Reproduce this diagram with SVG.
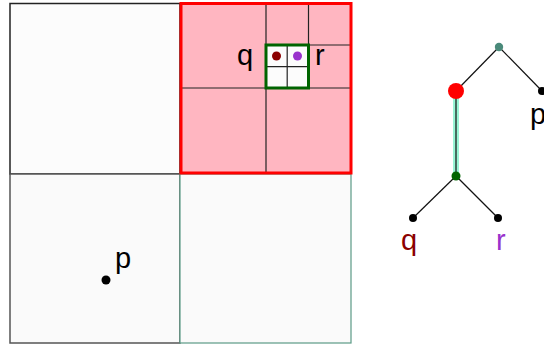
<svg xmlns="http://www.w3.org/2000/svg" width="544" height="345" viewBox="0 0 544 345">
<style>
.lbl{font-family:"Liberation Sans",Arial,sans-serif;font-size:29px;fill:#000}
.grid{stroke:#222;stroke-width:1.2;fill:none}
.edge{stroke:#111;stroke-width:1.2}
</style>
<rect width="544" height="345" fill="#fff"/>
<g id="quadtree">
<rect x="10" y="3.5" width="170" height="170.5" fill="#fcfcfc" stroke="#222" stroke-width="1.5"/>
<rect x="10" y="174" width="170" height="169" fill="#fafafa" stroke="#555" stroke-width="1.5"/>
<rect x="180" y="174" width="171" height="169" fill="#fafafa" stroke="#5a9a85" stroke-width="1.2"/>
<rect x="181" y="3.5" width="170" height="169.5" fill="#ffb6c1"/>
<line class="grid" x1="266" y1="3.5" x2="266" y2="173"/>
<line class="grid" x1="181" y1="88" x2="351" y2="88"/>
<line class="grid" x1="308.5" y1="3.5" x2="308.5" y2="45"/>
<line class="grid" x1="308.5" y1="45" x2="351" y2="45"/>
<rect x="266" y="45" width="42.5" height="43" fill="#fcfcfc"/>
<line class="grid" x1="287.2" y1="45" x2="287.2" y2="88"/>
<line class="grid" x1="266" y1="66.7" x2="308.5" y2="66.7"/>
<rect x="266" y="45" width="42.5" height="43" fill="none" stroke="#006400" stroke-width="3"/>
<rect x="181" y="3.5" width="170" height="169.5" fill="none" stroke="#ff0000" stroke-width="3"/>
<circle cx="276.5" cy="56" r="4.5" fill="#8b0000"/>
<circle cx="297.5" cy="56" r="4.5" fill="#9932cc"/>
<text class="lbl" x="237" y="65">q</text>
<text class="lbl" x="315" y="65">r</text>
<circle cx="106" cy="280" r="4.5" fill="#000"/>
<text class="lbl" x="115" y="268">p</text>
</g>
<g id="connectors">
<line class="edge" x1="499" y1="47" x2="456" y2="91"/>
<line class="edge" x1="499" y1="47" x2="542" y2="91"/>
<line x1="456" y1="91" x2="456" y2="176" stroke="#98f5d5" stroke-width="6"/>
<line class="edge" x1="456" y1="91" x2="456" y2="176"/>
<line class="edge" x1="456" y1="176" x2="413" y2="218"/>
<line class="edge" x1="456" y1="176" x2="498" y2="218"/>
</g>
<g id="root"><circle cx="499" cy="47" r="4.2" fill="#4a8a7a"/></g>
<g id="nodeRed"><circle cx="456" cy="91" r="8" fill="#ff0000"/></g>
<g id="leafP"><circle cx="542" cy="91" r="4" fill="#000"/><text class="lbl" x="530" y="124">p</text></g>
<g id="nodeGreen"><circle cx="456" cy="176" r="4.5" fill="#006400"/></g>
<g id="leafQ"><circle cx="413" cy="218" r="4" fill="#000"/><text class="lbl" x="401" y="250" style="fill:#8b0000">q</text></g>
<g id="leafR"><circle cx="498" cy="218" r="4" fill="#000"/><text class="lbl" x="496" y="250" style="fill:#9932cc">r</text></g>
</svg>
